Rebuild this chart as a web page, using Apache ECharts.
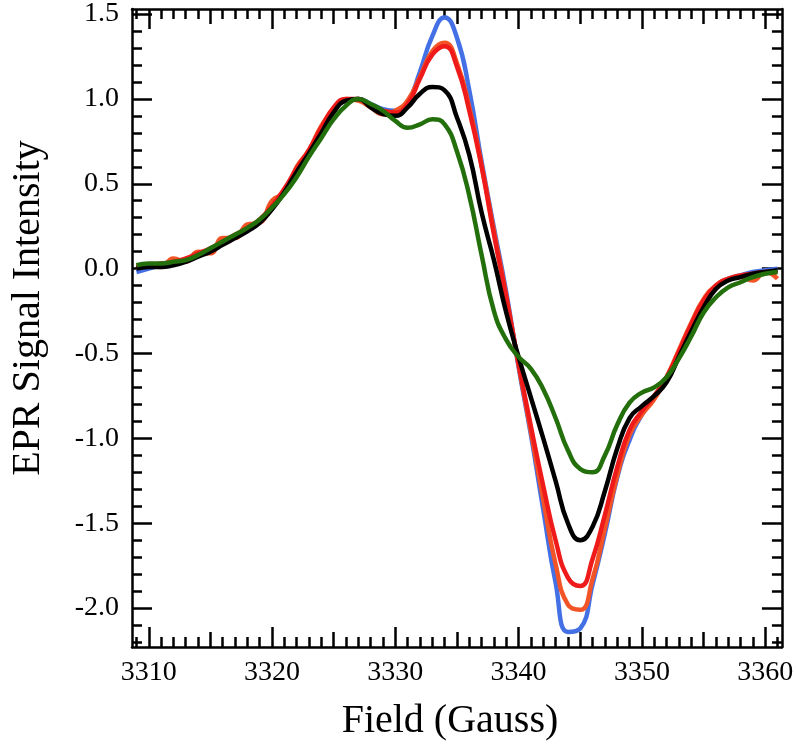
<!DOCTYPE html>
<html>
<head>
<meta charset="utf-8">
<script src="https://cdn.jsdelivr.net/npm/echarts@6/dist/echarts.min.js"></script>
<style>
html,body{margin:0;padding:0;background:#fff;}
#chart{width:796px;height:748px;}
</style>
</head>
<body>
<div id="chart"></div>
<script>
// Field (Gauss) sample positions
var fields = [3309,3310,3311,3312,3313,3314,3315,3316,3317,3318,3319,3320,3321,3322,3323,3324,3325,3326,3327,3328,3329,3330,3331,3332,3333,3334,3335,3336,3337,3338,3339,3340,3341,3342,3343,3344,3345,3346,3347,3348,3349,3350,3351,3352,3353,3354,3355,3356,3357,3358,3359,3360,3361];

var blueVals = [-0.02,0.00,0.02,0.03,0.05,0.08,0.11,0.15,0.19,0.23,0.28,0.36,0.46,0.58,0.69,0.81,0.93,0.99,1.00,0.97,0.94,0.93,0.98,1.16,1.37,1.48,1.36,1.05,0.63,0.24,-0.14,-0.58,-0.98,-1.42,-1.85,-2.14,-2.12,-1.86,-1.56,-1.23,-1.01,-0.86,-0.76,-0.65,-0.50,-0.33,-0.19,-0.10,-0.06,-0.04,-0.02,-0.01,0.00];

var orangeVals = [0.01,0.02,0.01,0.06,0.04,0.10,0.09,0.18,0.18,0.26,0.27,0.40,0.45,0.60,0.70,0.84,0.94,1.00,0.99,0.95,0.91,0.93,0.99,1.13,1.28,1.33,1.21,0.95,0.61,0.22,-0.16,-0.57,-0.96,-1.36,-1.74,-1.98,-2.01,-1.83,-1.53,-1.22,-0.98,-0.86,-0.77,-0.64,-0.48,-0.32,-0.18,-0.10,-0.06,-0.05,-0.07,-0.02,-0.06];

var redVals = [0.01,0.02,0.03,0.04,0.06,0.09,0.12,0.16,0.20,0.24,0.29,0.37,0.47,0.59,0.70,0.83,0.95,1.00,1.00,0.96,0.93,0.92,0.97,1.12,1.26,1.31,1.19,0.93,0.60,0.20,-0.17,-0.56,-0.93,-1.28,-1.60,-1.82,-1.87,-1.71,-1.45,-1.17,-0.95,-0.84,-0.75,-0.64,-0.49,-0.33,-0.19,-0.10,-0.06,-0.04,-0.03,-0.02,-0.02];

var blackVals = [0.00,0.01,0.01,0.02,0.04,0.07,0.10,0.14,0.18,0.22,0.27,0.35,0.45,0.57,0.68,0.80,0.92,0.99,1.00,0.95,0.91,0.90,0.95,1.03,1.07,1.05,0.89,0.67,0.33,0.05,-0.26,-0.52,-0.76,-1.00,-1.25,-1.50,-1.60,-1.52,-1.31,-1.06,-0.88,-0.81,-0.75,-0.67,-0.52,-0.37,-0.23,-0.12,-0.07,-0.05,-0.03,-0.02,-0.01];

var greenVals = [0.02,0.03,0.03,0.04,0.05,0.08,0.12,0.16,0.20,0.24,0.29,0.36,0.44,0.54,0.66,0.77,0.88,0.96,1.00,0.97,0.93,0.87,0.83,0.85,0.88,0.85,0.69,0.43,0.08,-0.25,-0.42,-0.52,-0.59,-0.71,-0.88,-1.07,-1.18,-1.20,-1.10,-0.92,-0.79,-0.73,-0.70,-0.64,-0.53,-0.40,-0.26,-0.17,-0.11,-0.08,-0.05,-0.03,-0.02];

// Tick label values
var xLabels = [3310,3320,3330,3340,3350,3360];
var xMidTicks = [3315,3325,3335,3345,3355];
var yLabels = [-2.0,-1.5,-1.0,-0.5,0.0,0.5,1.0,1.5];

var xMinor = [];
for (var g = 3309; g <= 3361; g++) xMinor.push(g);
var yMinor = [];
for (var k = -22; k <= 15; k++) yMinor.push(Math.round(k) / 10);

var X_MIN = 3308.64, X_MAX = 3361.36, Y_MIN = -2.229, Y_MAX = 1.529;
var FONT = '"Liberation Serif", "Times New Roman", serif';

function pairs(vals) {
  return fields.map(function (f, i) { return [f, vals[i]]; });
}

function xAx(pos, ticks, len, main, labels) {
  return {
    type: 'value', position: pos, min: X_MIN, max: X_MAX,
    axisLine: { show: main, onZero: false, lineStyle: { color: '#000', width: 2.5 } },
    axisTick: { show: true, inside: true, length: len, customValues: ticks, lineStyle: { color: '#000', width: 2.5 } },
    axisLabel: labels ? { show: true, customValues: labels, margin: 12, color: '#000', fontFamily: FONT, fontSize: 28,
      formatter: function (v) { return String(Math.round(v)); } } : { show: false },
    splitLine: { show: false },
    name: (labels && pos === 'bottom') ? 'Field (Gauss)' : '',
    nameLocation: 'middle', nameGap: 54,
    nameTextStyle: { color: '#000', fontFamily: FONT, fontSize: 40, padding: [0, 14, 0, 0] }
  };
}
function yAx(pos, ticks, len, main, labels) {
  return {
    type: 'value', position: pos, min: Y_MIN, max: Y_MAX,
    axisLine: { show: main, onZero: false, lineStyle: { color: '#000', width: 2.5 } },
    axisTick: { show: true, inside: true, length: len, customValues: ticks, lineStyle: { color: '#000', width: 2.5 } },
    axisLabel: labels ? { show: true, customValues: labels, margin: 13, color: '#000', fontFamily: FONT, fontSize: 28,
      formatter: function (v) { return Number(v).toFixed(1); } } : { show: false },
    splitLine: { show: false },
    name: (labels && pos === 'left') ? 'EPR Signal Intensity' : '',
    nameLocation: 'middle', nameGap: 84,
    nameTextStyle: { color: '#000', fontFamily: FONT, fontSize: 40, padding: [0, 0, 0, 40] }
  };
}

function line(vals, color) {
  return {
    type: 'line', data: pairs(vals), xAxisIndex: 0, yAxisIndex: 0,
    showSymbol: false, smooth: 0.5, animation: false,
    lineStyle: { color: color, width: 4.5 }
  };
}

var chart = echarts.init(document.getElementById('chart'), null, { renderer: 'canvas' });
chart.setOption({
  animation: false,
  backgroundColor: '#fff',
  grid: { left: 126, right: 9, top: 8, bottom: 101, containLabel: false },
  xAxis: [
    xAx('bottom', xLabels, 20, true, xLabels),
    xAx('bottom', xMidTicks, 15, false, null),
    xAx('bottom', xMinor, 10, false, null),
    xAx('top', xLabels, 20, true, null),
    xAx('top', xMidTicks, 15, false, null),
    xAx('top', xMinor, 10, false, null)
  ],
  yAxis: [
    yAx('left', yLabels, 20, true, yLabels),
    yAx('left', yMinor, 10, false, null),
    yAx('right', yLabels, 20, true, null),
    yAx('right', yMinor, 10, false, null)
  ],
  series: [
    line(blueVals, '#4470e6'),
    line(orangeVals, '#f25427'),
    line(redVals, '#ef1a1a'),
    line(blackVals, '#000000'),
    line(greenVals, '#236f0c')
  ]
});
</script>
</body>
</html>
